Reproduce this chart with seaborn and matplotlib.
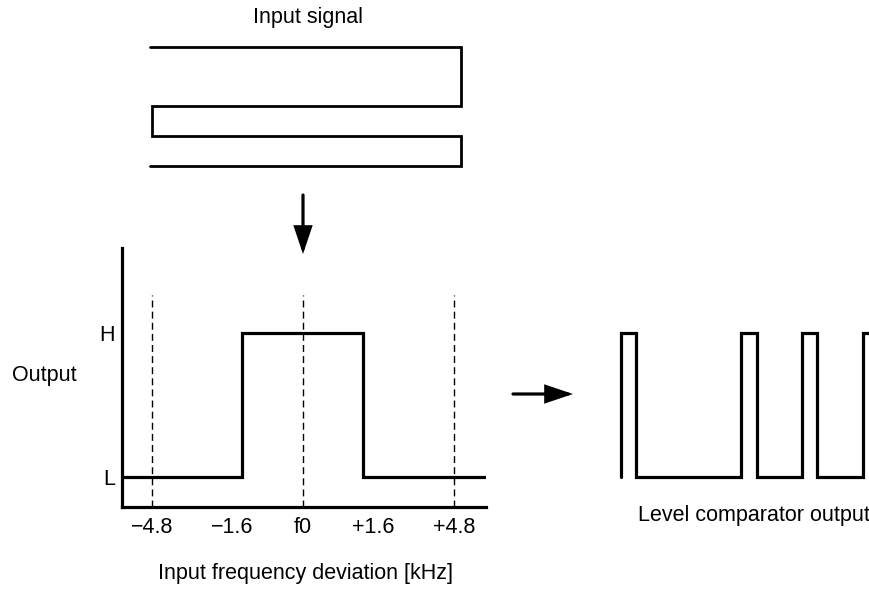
import matplotlib
matplotlib.use("Agg")
import matplotlib.pyplot as plt
import seaborn as sns
import pandas as pd

# --- data ---
# input signal: frequency sweep (x = deviation, y = time going down)
signal_freq = [-4.86, 5.04, 5.04, -4.81, -4.81, 5.04, 5.04, -4.86]
signal_time = [0, 0, 2, 2, 3, 3, 4, 4]

# band-pass output (L = 0, H = 1)
resp_freq = [-5.75, -1.92, -1.92, 1.92, 1.92, 5.82]
resp_level = [0, 0, 1, 1, 0, 0]

# dashed guide lines and tick labels
guide_freq = [-4.8, 0, 4.8]
tick_pos = [-4.8, -2.25, 0, 2.25, 4.8]
tick_labels = ["\u22124.8", "\u22121.6", "f0", "+1.6", "+4.8"]

# level comparator output
cmp_time = [0, 0, 1.5, 1.5, 12.0, 12.0, 13.6, 13.6, 18.1, 18.1, 19.6, 19.6, 24.2, 24.2, 26]
cmp_level = [0, 1, 1, 0, 0, 1, 1, 0, 0, 1, 1, 0, 0, 1, 1]

sns.set_theme(style="white")
plt.rcParams["font.family"] = ["Liberation Sans", "DejaVu Sans"]
plt.rcParams["text.color"] = "black"
plt.rcParams["lines.solid_joinstyle"] = "miter"
FS = 15.5
LW = 2.3

W, H = 870, 589
fig = plt.figure(figsize=(W / 100, H / 100), dpi=100)


def px_box(x0, y0, x1, y1):
    return [x0 / W, 1 - y1 / H, (x1 - x0) / W, (y1 - y0) / H]


# main response axes
ax = fig.add_axes(px_box(122, 248, 486, 507))
ax.set_xlim(-5.75, 5.82)
ax.set_ylim(-0.211, 1.595)
resp = pd.DataFrame({"f": resp_freq, "lvl": resp_level})
sns.lineplot(data=resp, x="f", y="lvl", sort=False, estimator=None,
             color="black", lw=LW, ax=ax)
ax.vlines(guide_freq, -0.211, 1.267, colors="black", lw=1.0,
          linestyles=(0, (5, 3)))
for side in ["top", "right"]:
    ax.spines[side].set_visible(False)
for side in ["left", "bottom"]:
    ax.spines[side].set_linewidth(LW)
    ax.spines[side].set_color("black")
ax.set_xticks(tick_pos, tick_labels)
ax.set_yticks([0, 1], ["L", "H"])
ax.tick_params(axis="x", length=0, pad=7, labelsize=FS, colors="black")
ax.tick_params(axis="y", length=0, pad=5, labelsize=FS, colors="black")
ax.set_xlabel("")
ax.set_ylabel("")
ax.patch.set_alpha(0)

# input signal axes (shares the frequency scale)
ax_in = fig.add_axes(px_box(122, 30, 486, 190), sharex=ax)
sig = pd.DataFrame({"f": signal_freq, "t": signal_time})
sns.lineplot(data=sig, x="f", y="t", sort=False, estimator=None,
             color="black", lw=2.0, ax=ax_in)
ax_in.set_ylim(4.81, -0.56)
ax_in.axis("off")

# comparator output axes (shares L/H levels)
ax_c = fig.add_axes(px_box(600, 248, 870, 507), sharey=ax)
cmp_df = pd.DataFrame({"t": cmp_time, "lvl": cmp_level})
sns.lineplot(data=cmp_df, x="t", y="lvl", sort=False, estimator=None,
             color="black", lw=LW, ax=ax_c)
ax_c.set_xlim(-2.07, 24.93)
ax_c.axis("off")

# texts
fig.text(308 / W, 1 - 18 / H, "Input signal", ha="center", va="center",
         fontsize=FS, color="black")
fig.text(12 / W, 1 - 376 / H, "Output", ha="left", va="center",
         fontsize=FS, color="black")
fig.text(305 / W, 1 - 573 / H, "Input frequency deviation [kHz]",
         ha="center", va="center", fontsize=FS, color="black")
fig.text(754 / W, 1 - 515 / H, "Level comparator output",
         ha="center", va="center", fontsize=FS, color="black")

# arrows
arrow = dict(arrowstyle="-|>,head_length=0.8,head_width=0.27", lw=LW,
             color="black", mutation_scale=20, shrinkA=0, shrinkB=0,
             joinstyle="miter")
fig.add_artist(matplotlib.patches.FancyArrowPatch(
    (303 / W, 1 - 195 / H), (303 / W, 1 - 254 / H),
    transform=fig.transFigure, **arrow))
fig.add_artist(matplotlib.patches.FancyArrowPatch(
    (513 / W, 1 - 394 / H), (573 / W, 1 - 394 / H),
    transform=fig.transFigure, **arrow))

fig.savefig("out.png", dpi=100)
